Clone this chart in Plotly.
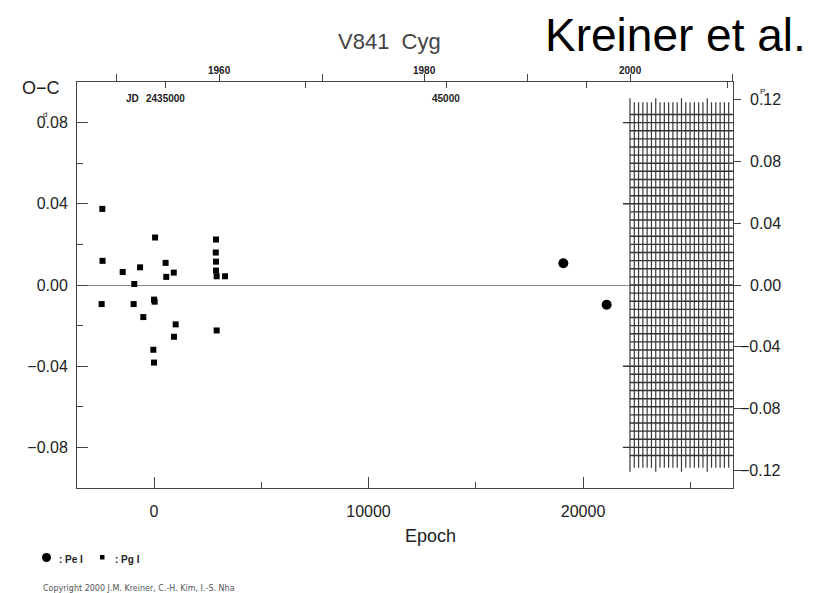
import plotly.graph_objects as go

# ---------------- data ----------------
pg_epoch = [-2410, -2400, -2440, -1460, -650, -920, -950, -500, 50, 0, 30, -30, 0,
            540, 570, 920, 1010, 930, 2890, 2880, 2890, 2890, 2920, 3310, 2920]
pg_oc = [0.0375, 0.0119, -0.0094, 0.0064, 0.0087, 0.0005, -0.0094, -0.0158, 0.0234,
         -0.0072, -0.0082, -0.0319, -0.0382, 0.0109, 0.0040, 0.0061, -0.0194, -0.0255,
         0.0224, 0.0160, 0.0115, 0.0071, 0.0043, 0.0043, -0.0224]
pe_epoch = [19080, 21100]
pe_oc = [0.0107, -0.0097]

epoch_ticks = [0, 10000, 20000]
epoch_ticktext = ["0", "10000", "20000"]
epoch_minor = [5000, 15000, 25000]
oc_ticks = [-0.08, -0.04, 0.0, 0.04, 0.08]
oc_ticktext = ["\u22120.08", "\u22120.04", "0.00", "0.04", "0.08"]
oc_minor = [-0.1, -0.06, -0.02, 0.02, 0.06, 0.1]
phase_ticks = [-0.12, -0.08, -0.04, 0.0, 0.04, 0.08, 0.12]
phase_ticktext = ["\u22120.12", "\u22120.08", "\u22120.04", "0.00", "0.04", "0.08", "0.12"]
jd_ticks = [2435000, 2440000, 2445000, 2450000, 2455000]
year_ticks = [1950, 1960, 1970, 1980, 1990, 2000, 2010]
year_labels = [1960, 1980, 2000]

PERIOD = 0.7633
T0 = 2434608.5
EPOCH_RANGE = [-3590, 26990]
OC_RANGE = [-0.1, 0.1]
JD_RANGE = [T0 + PERIOD * e for e in EPOCH_RANGE]
YEAR_RANGE = [2000 + (jd - 2451545) / 365.25 for jd in JD_RANGE]
PHASE_RANGE = [v / PERIOD for v in OC_RANGE]

# hatched region (future, after 2000)
HATCH_START = (2451545 - T0) / PERIOD
HATCH_STEP_E = 200
HATCH_NV = 24
HATCH_STEP_OC = 0.004
HATCH_NH = 21

FONT = "Liberation Sans, Arial, sans-serif"
W, H = 821, 593
L, R, T, B = 77, 88, 82, 105
PW, PH = W - L - R, H - T - B


def xp(px):
    return (px - L) / PW


def yp(py):
    return (H - B - py) / PH


fig = go.Figure()

vx, vy = [], []
for k in range(HATCH_NV):
    e = HATCH_START + k * HATCH_STEP_E
    ext = 0.092 if k % 6 == 0 else 0.090
    vx += [e, e, None]
    vy += [-ext, ext, None]
hx, hy = [], []
for j in range(-HATCH_NH, HATCH_NH + 1):
    v = round(j * HATCH_STEP_OC, 4)
    e0 = HATCH_START - (330 if j % 10 == 0 and j != 0 else 0)
    hx += [e0, EPOCH_RANGE[1] - 1, None]
    hy += [v, v, None]
fig.add_trace(go.Scatter(x=vx, y=vy, mode="lines",
                         line=dict(color="#3a3a3a", width=1.2),
                         hoverinfo="skip", showlegend=False))
fig.add_trace(go.Scatter(x=hx, y=hy, mode="lines",
                         line=dict(color="#333", width=1.4),
                         hoverinfo="skip", showlegend=False))

fig.add_trace(go.Scatter(x=pg_epoch, y=pg_oc, mode="markers",
                         marker=dict(symbol="square", size=6, color="black"),
                         showlegend=False, name="Pg I"))
fig.add_trace(go.Scatter(x=pe_epoch, y=pe_oc, mode="markers",
                         marker=dict(symbol="circle", size=10, color="black"),
                         showlegend=False, name="Pe I"))
fig.add_trace(go.Scatter(x=[], y=[], xaxis="x", yaxis="y2", showlegend=False))
fig.add_trace(go.Scatter(x=[], y=[], xaxis="x2", yaxis="y", showlegend=False))
fig.add_trace(go.Scatter(x=[], y=[], xaxis="x3", yaxis="y", showlegend=False))

AX = "#444"
TXT = "#222"

fig.update_layout(
    width=W, height=H, margin=dict(l=L, r=R, t=T, b=B),
    paper_bgcolor="white", plot_bgcolor="white",
    font=dict(family=FONT, color=TXT),
    xaxis=dict(range=EPOCH_RANGE, showgrid=False, zeroline=False, showline=True,
               linecolor=AX, linewidth=1, mirror=True, ticks="inside", ticklen=11,
               tickcolor=AX, tickmode="array", tickvals=epoch_ticks,
               ticktext=epoch_ticktext,
               tickfont=dict(size=16, color=TXT), ticklabelstandoff=9,
               minor=dict(tickvals=epoch_minor, ticks="inside", ticklen=6, tickcolor=AX)),
    yaxis=dict(range=OC_RANGE, showgrid=False, zeroline=True, zerolinecolor="#888",
               zerolinewidth=1, showline=True, linecolor=AX, linewidth=1,
               mirror="ticks", ticks="inside", ticklen=11, tickcolor=AX,
               tickmode="array", tickvals=oc_ticks, ticktext=oc_ticktext,
               tickfont=dict(size=16, color=TXT), ticklabelstandoff=5,
               minor=dict(tickvals=oc_minor, ticks="inside", ticklen=6, tickcolor=AX)),
    yaxis2=dict(range=PHASE_RANGE, overlaying="y", side="right", anchor="x",
                showgrid=False, zeroline=False, showline=False, ticks="outside",
                ticklen=7, tickcolor=AX, tickmode="array", tickvals=phase_ticks,
                showticklabels=False),
    xaxis2=dict(range=JD_RANGE, overlaying="x", side="top", anchor="y",
                showgrid=False, zeroline=False, showline=False, ticks="inside",
                ticklen=6, tickcolor=AX, tickmode="array", tickvals=jd_ticks,
                showticklabels=False),
    xaxis3=dict(range=YEAR_RANGE, overlaying="x", side="top", anchor="y",
                showgrid=False, zeroline=False, showline=False, ticks="outside",
                ticklen=7, tickcolor=AX, tickmode="array", tickvals=year_ticks,
                showticklabels=False),
)

ann = []
for v, t in zip(phase_ticks, phase_ticktext):
    ann.append(dict(xref="paper", x=1, xanchor="right", xshift=50, yref="y2", y=v,
                    yanchor="middle", text=t, showarrow=False,
                    font=dict(size=16, color=TXT)))
ann.append(dict(xref="paper", x=1, xanchor="center", xshift=29, yref="y2", y=0.12,
                yanchor="middle", yshift=8, text="P", showarrow=False,
                font=dict(size=8, color=TXT)))
ann.append(dict(xref="paper", x=0, xanchor="center", xshift=-32, yref="y", y=0.08,
                yanchor="middle", yshift=8, text="d", showarrow=False,
                font=dict(size=8, color=TXT)))
for yv in year_labels:
    ann.append(dict(xref="x3", x=yv, xanchor="center", yref="paper", y=1, yshift=12,
                    yanchor="middle", text=str(yv), showarrow=False,
                    font=dict(size=10, color=TXT, weight="bold")))
ann.append(dict(xref="x2", x=2435000, xanchor="center", yref="paper", y=1, yshift=-16,
                yanchor="middle", text="2435000", showarrow=False,
                font=dict(size=10, color=TXT, weight="bold")))
ann.append(dict(xref="x2", x=2435000, xanchor="right", xshift=-24, yref="paper", y=1,
                yshift=-16, yanchor="middle", text="JD", showarrow=False,
                font=dict(size=10, color=TXT, weight="bold")))
ann.append(dict(xref="x2", x=2445000, xanchor="center", yref="paper", y=1, yshift=-16,
                yanchor="middle", text="45000", showarrow=False,
                font=dict(size=10, color=TXT, weight="bold")))
ann.append(dict(xref="paper", x=xp(41), yref="paper", y=yp(88), xanchor="center",
                yanchor="middle", text="O\u2212C", showarrow=False,
                font=dict(size=18, color=TXT)))
ann.append(dict(xref="paper", x=xp(430), yref="paper", y=yp(536), xanchor="center",
                yanchor="middle", text="Epoch", showarrow=False,
                font=dict(size=18, color=TXT)))
ann.append(dict(xref="paper", x=xp(389), yref="paper", y=yp(42), xanchor="center",
                yanchor="middle", text="V841&nbsp;&nbsp;Cyg", showarrow=False,
                font=dict(size=22, color="#444")))
ann.append(dict(xref="paper", x=xp(675), yref="paper", y=yp(35), xanchor="center",
                yanchor="middle", text="Kreiner et al.", showarrow=False,
                font=dict(size=46, color="black")))
ann.append(dict(xref="paper", x=xp(57), yref="paper", y=yp(559), xanchor="left",
                yanchor="middle", text=": Pe I", showarrow=False,
                font=dict(size=10, color=TXT, weight="bold")))
ann.append(dict(xref="paper", x=xp(113), yref="paper", y=yp(559), xanchor="left",
                yanchor="middle", text=": Pg I", showarrow=False,
                font=dict(size=10, color=TXT, weight="bold")))
ann.append(dict(xref="paper", x=xp(41), yref="paper", y=yp(588), xanchor="left",
                yanchor="middle", text="Copyright 2000 J.M. Kreiner, C.-H. Kim, I.-S. Nha",
                showarrow=False, font=dict(size=8, color="#555",
                                           family="DejaVu Sans, sans-serif")))
fig.update_layout(annotations=ann)

fig.add_shape(type="circle", xref="paper", yref="paper", x0=xp(42), x1=xp(51),
              y0=yp(562), y1=yp(553), fillcolor="black", line=dict(width=0))
fig.add_shape(type="rect", xref="paper", yref="paper", x0=xp(100), x1=xp(104.5),
              y0=yp(559.5), y1=yp(555), fillcolor="black", line=dict(width=0))

fig.write_html("out.html")
